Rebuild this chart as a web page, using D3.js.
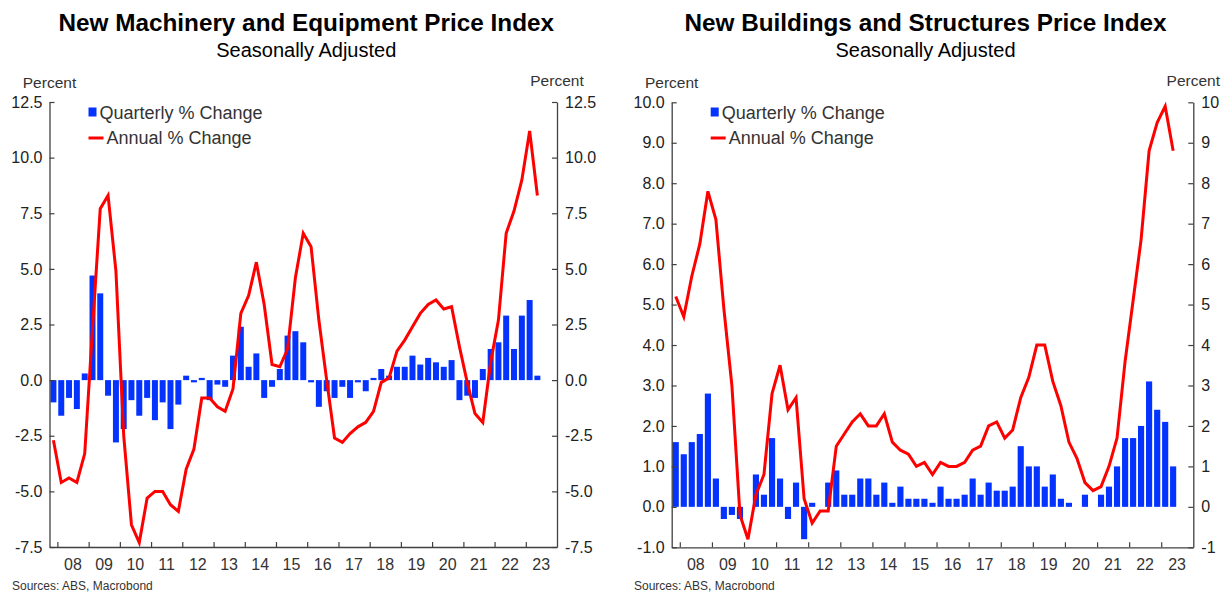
<!DOCTYPE html>
<html>
<head>
<meta charset="utf-8">
<script src="https://cdn.jsdelivr.net/npm/d3@7"></script>
<style>
  body { margin: 0; background: #fff; }
  text { font-family: "Liberation Sans", Arial, sans-serif; }
</style>
</head>
<body>
<svg id="chart" width="1227" height="594"></svg>
<script>
// first quarter shown is 2007 Q4, last is 2023 Q2
const firstQuarter = new Date(2007, 9, 1);
const yearLabels = d3.range(2008, 2024);

// New Machinery and Equipment Price Index
const machQtr = [-1.0, -1.6, -0.8, -1.3, 0.3, 4.7, 3.9, -0.7, -2.8, -2.2,
  -0.9, -1.6, -0.8, -1.8, -1.0, -2.2, -1.1, 0.2, -0.1, 0.1,
  -0.9, -0.2, -0.3, 1.1, 2.4, 0.6, 1.2, -0.8, -0.3, 0.5,
  2.0, 2.2, 1.7, -0.1, -1.2, -0.5, -0.8, -0.3, -0.8, -0.1,
  -0.5, 0.1, 0.5, 0.2, 0.6, 0.6, 1.1, 0.7, 1.0, 0.8,
  0.6, 0.9, -0.9, -0.7, -0.8, 0.5, 1.4, 1.7, 2.9, 1.4,
  2.9, 3.6, 0.2];
const machAnn = [-2.7, -4.6, -4.4, -4.6, -3.3, 2.3, 7.7, 8.3, 4.9, -2.5,
  -6.5, -7.3, -5.3, -5.0, -5.0, -5.6, -5.9, -4.0, -3.1, -0.8,
  -0.8, -1.2, -1.4, -0.4, 3.0, 3.8, 5.3, 3.4, 0.7, 0.6,
  1.4, 4.6, 6.6, 6.0, 2.7, 0.0, -2.6, -2.8, -2.4, -2.1,
  -1.9, -1.4, -0.1, 0.1, 1.3, 1.8, 2.4, 3.0, 3.4, 3.6,
  3.2, 3.3, 1.5, -0.1, -1.5, -1.9, 0.8, 2.7, 6.6, 7.6,
  9.0, 11.2, 8.3];
const machTicks = [-7.5, -5, -2.5, 0, 2.5, 5, 7.5, 10, 12.5];

// New Buildings and Structures Price Index
const buildQtr = [1.6, 1.3, 1.6, 1.8, 2.8, 0.7, -0.3, -0.2, -0.3, 0.0,
  0.8, 0.3, 1.7, 0.7, -0.3, 0.6, -0.8, 0.1, 0.0, 0.6,
  0.9, 0.3, 0.3, 0.7, 0.7, 0.3, 0.6, 0.1, 0.5, 0.2,
  0.2, 0.2, 0.1, 0.5, 0.2, 0.2, 0.3, 0.7, 0.3, 0.6,
  0.4, 0.4, 0.5, 1.5, 1.0, 1.0, 0.5, 0.8, 0.2, 0.1,
  0.0, 0.3, 0.0, 0.3, 0.5, 1.0, 1.7, 1.7, 2.0, 3.1,
  2.4, 2.1, 1.0];
const buildAnn = [5.2, 4.7, 5.7, 6.5, 7.8, 7.1, 4.9, 3.0, -0.2, -0.8,
  0.3, 0.8, 2.8, 3.5, 2.4, 2.7, 0.2, -0.4, -0.1, -0.1,
  1.5, 1.8, 2.1, 2.3, 2.0, 2.0, 2.3, 1.6, 1.4, 1.3,
  1.0, 1.1, 0.8, 1.1, 1.0, 1.0, 1.1, 1.4, 1.5, 2.0,
  2.1, 1.7, 1.9, 2.7, 3.2, 4.0, 4.0, 3.1, 2.5, 1.6,
  1.2, 0.6, 0.4, 0.5, 1.0, 1.7, 3.6, 5.1, 6.6, 8.8,
  9.5, 9.9, 8.8];
const buildTicks = d3.range(-1, 11);

const blue = "#0433ff";
const red = "#ff0000";
const axisColor = "#404040";

const quarters = machQtr.map((_, i) => d3.timeMonth.offset(firstQuarter, 3 * i));
const midQ = q => new Date((q.getTime() + d3.timeMonth.offset(q, 3).getTime()) / 2);

const svg = d3.select("#chart");
svg.append("rect").attr("width", 1227).attr("height", 594).attr("fill", "#fff");

function drawPanel(p) {
  const g = svg.append("g");
  const x = d3.scaleTime()
    .domain([firstQuarter, new Date(2024, 0, 1)])
    .range([p.left, p.right]);
  const y = d3.scaleLinear().domain(p.yDomain).range([p.bottom, p.top]);

  // titles
  const cx = (p.left + p.right) / 2 + p.titleShift;
  g.append("text").attr("x", cx).attr("y", 31).attr("text-anchor", "middle")
    .attr("font-size", 24.3).attr("font-weight", "bold").attr("fill", "#000").text(p.title);
  g.append("text").attr("x", cx).attr("y", 56.5).attr("text-anchor", "middle")
    .attr("font-size", 20).attr("fill", "#000").text("Seasonally Adjusted");

  g.append("text").attr("x", p.left).attr("y", 88).attr("text-anchor", "middle")
    .attr("font-size", 15.5).attr("fill", "#333").text("Percent");
  g.append("text").attr("x", p.right).attr("y", 86).attr("text-anchor", "middle")
    .attr("font-size", 15.5).attr("fill", "#333").text("Percent");

  // bars
  const bw = (x(d3.timeMonth.offset(firstQuarter, 3)) - x(firstQuarter)) * 0.76;
  g.append("g").selectAll("rect")
    .data(p.qtr)
    .join("rect")
    .attr("x", (d, i) => x(midQ(quarters[i])) - bw / 2)
    .attr("y", d => y(Math.max(0, d)))
    .attr("width", bw)
    .attr("height", d => Math.abs(y(d) - y(0)))
    .attr("fill", blue);

  // annual line
  const line = d3.line()
    .x((d, i) => x(midQ(quarters[i])))
    .y(d => y(d));
  g.append("path").datum(p.ann)
    .attr("d", line)
    .attr("fill", "none")
    .attr("stroke", red)
    .attr("stroke-width", 3);

  // axes, ticks point inwards
  const yl = g.append("g").attr("transform", `translate(${p.left},0)`)
    .call(d3.axisLeft(y).tickValues(p.ticks).tickFormat(p.fmtL)
      .tickSizeInner(-5).tickSizeOuter(0).tickPadding(7));
  const yr = g.append("g").attr("transform", `translate(${p.right},0)`)
    .call(d3.axisRight(y).tickValues(p.ticks).tickFormat(p.fmtR)
      .tickSizeInner(-5).tickSizeOuter(0).tickPadding(8));
  const xb = g.append("g").attr("transform", `translate(0,${p.bottom})`)
    .call(d3.axisBottom(x).tickValues(yearLabels.map(yr => new Date(yr, 0, 1)))
      .tickFormat("").tickSizeInner(-5).tickSizeOuter(0));
  [yl, yr, xb].forEach(a => {
    a.select(".domain").attr("stroke", axisColor).attr("stroke-width", 1.3);
    a.selectAll(".tick line").attr("stroke", axisColor).attr("stroke-width", 1.2);
    a.selectAll(".tick text").attr("font-size", 16).attr("fill", "#222")
      .attr("font-family", '"Liberation Sans", Arial, sans-serif');
  });

  g.append("g").selectAll("text")
    .data(yearLabels)
    .join("text")
    .attr("x", d => x(new Date(d, 6, 1)))
    .attr("y", p.bottom + 23)
    .attr("text-anchor", "middle")
    .attr("font-size", 16)
    .attr("fill", "#333")
    .text(d => String(d % 100).padStart(2, "0"));

  // legend
  const lx = p.left + 39;
  g.append("rect").attr("x", lx).attr("y", 107.5).attr("width", 8).attr("height", 9).attr("fill", blue);
  g.append("text").attr("x", lx + 11).attr("y", 119).attr("font-size", 18).attr("fill", "#333")
    .text("Quarterly % Change");
  g.append("line").attr("x1", lx).attr("x2", lx + 15).attr("y1", 138).attr("y2", 138)
    .attr("stroke", red).attr("stroke-width", 3);
  g.append("text").attr("x", lx + 18).attr("y", 144).attr("font-size", 18).attr("fill", "#333")
    .text("Annual % Change");

  g.append("text").attr("x", p.sourceX).attr("y", 590).attr("font-size", 12).attr("fill", "#333")
    .text("Sources: ABS, Macrobond");
}

drawPanel({
  title: "New Machinery and Equipment Price Index",
  left: 49.5, right: 557, top: 102, bottom: 547, titleShift: 3,
  yDomain: [-7.5, 12.5], ticks: machTicks,
  fmtL: d => d.toFixed(1), fmtR: d => d.toFixed(1),
  qtr: machQtr, ann: machAnn, sourceX: 12
});

drawPanel({
  title: "New Buildings and Structures Price Index",
  left: 671.7, right: 1193.3, top: 102.3, bottom: 547.3, titleShift: -7,
  yDomain: [-1, 10], ticks: buildTicks,
  fmtL: d => d.toFixed(1), fmtR: d => String(d),
  qtr: buildQtr, ann: buildAnn, sourceX: 634
});
</script>
</body>
</html>
